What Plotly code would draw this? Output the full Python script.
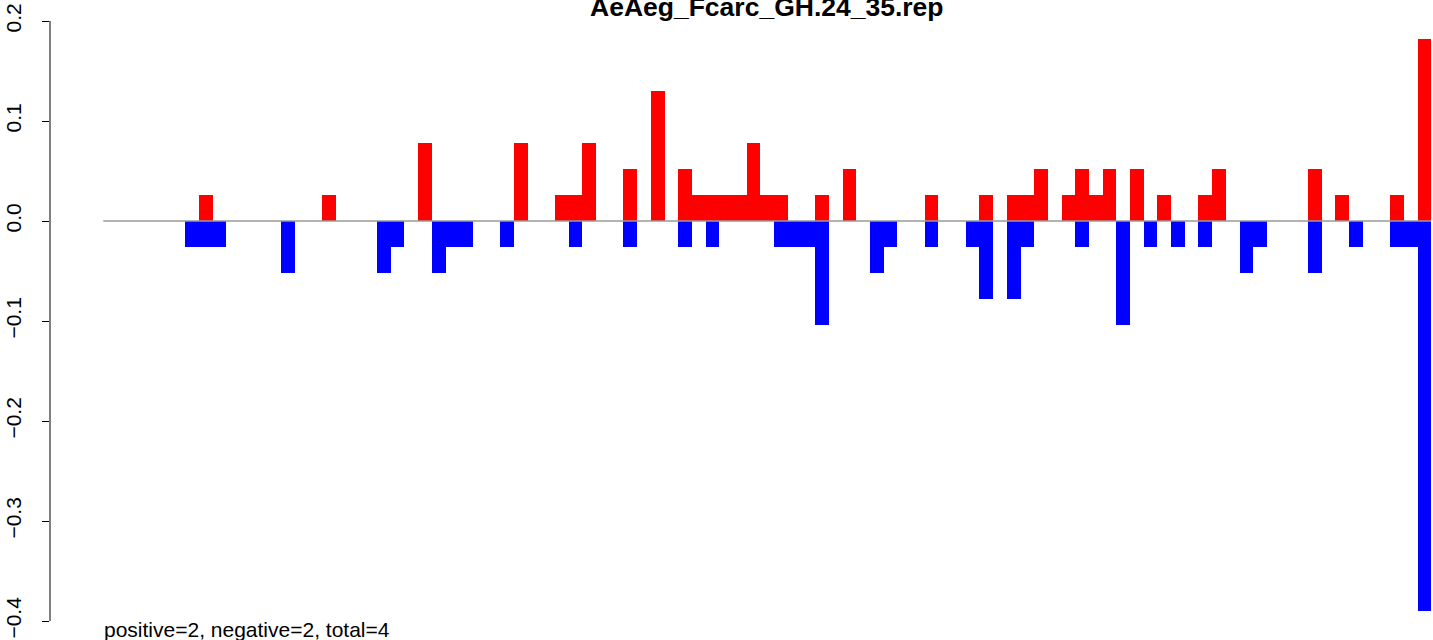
import plotly.graph_objects as go

# bar index positions (R barplot, space=0)
positions = list(range(97))

positive = [
    0, 0, 0, 0, 0, 0, 0, 0.026, 0, 0,
    0, 0, 0, 0, 0, 0, 0.026, 0, 0, 0,
    0, 0, 0, 0.078, 0, 0, 0, 0, 0, 0,
    0.078, 0, 0, 0.026, 0.026, 0.078, 0, 0, 0.052, 0,
    0.13, 0, 0.052, 0.026, 0.026, 0.026, 0.026, 0.078, 0.026, 0.026,
    0, 0, 0.026, 0, 0.052, 0, 0, 0, 0, 0,
    0.026, 0, 0, 0, 0.026, 0, 0.026, 0.026, 0.052, 0,
    0.026, 0.052, 0.026, 0.052, 0, 0.052, 0, 0.026, 0, 0,
    0.026, 0.052, 0, 0, 0, 0, 0, 0, 0.052, 0,
    0.026, 0, 0, 0, 0.026, 0, 0.182,
]

negative = [
    0, 0, 0, 0, 0, 0, -0.026, -0.026, -0.026, 0,
    0, 0, 0, -0.052, 0, 0, 0, 0, 0, 0,
    -0.052, -0.026, 0, 0, -0.052, -0.026, -0.026, 0, 0, -0.026,
    0, 0, 0, 0, -0.026, 0, 0, 0, -0.026, 0,
    0, 0, -0.026, 0, -0.026, 0, 0, 0, 0, -0.026,
    -0.026, -0.026, -0.104, 0, 0, 0, -0.052, -0.026, 0, 0,
    -0.026, 0, 0, -0.026, -0.078, 0, -0.078, -0.026, 0, 0,
    0, -0.026, 0, 0, -0.104, 0, -0.026, 0, -0.026, 0,
    -0.026, 0, 0, -0.052, -0.026, 0, 0, 0, -0.052, 0,
    0, -0.026, 0, 0, -0.026, -0.026, -0.39,
]

tick_vals = [0.2, 0.1, 0.0, -0.1, -0.2, -0.3, -0.4]
tick_text = ["0.2", "0.1", "0.0", "\u22120.1", "\u22120.2", "\u22120.3", "\u22120.4"]

title_text = "AeAeg_Fcarc_GH.24_35.rep"
footer_text = "positive=2, negative=2, total=4"

FONT = "Liberation Sans, Arial, Helvetica, sans-serif"

fig = go.Figure()
fig.add_trace(go.Bar(x=positions, y=positive, width=1,
                     marker=dict(color="#FF0000", line=dict(width=0)),
                     hoverinfo="skip"))
fig.add_trace(go.Bar(x=positions, y=negative, width=1,
                     marker=dict(color="#0000FF", line=dict(width=0)),
                     hoverinfo="skip"))

# baseline
fig.add_shape(type="line", xref="x", yref="y",
              x0=positions[0] - 0.5, x1=positions[-1] + 0.5, y0=0, y1=0,
              line=dict(color="#9a9a9a", width=1.3), layer="above")
# y axis line spanning tick range
fig.add_shape(type="line", xref="paper", yref="y",
              x0=0, x1=0, y0=min(tick_vals), y1=max(tick_vals),
              line=dict(color="black", width=1))

fig.add_annotation(text="<b>" + title_text + "</b>", xref="paper", yref="paper",
                   x=(767 - 50) / 1383, y=1 - 7 / 640, xanchor="center", yanchor="middle",
                   showarrow=False, font=dict(family=FONT, size=26.5, color="black"))
fig.add_annotation(text=footer_text, xref="paper", yref="paper",
                   x=(102 - 50) / 1383, y=1 - 629 / 640, xanchor="left", yanchor="middle",
                   showarrow=False, font=dict(family=FONT, size=21, color="black"))

fig.update_layout(
    width=1433, height=640,
    margin=dict(l=50, r=0, t=0, b=0),
    paper_bgcolor="white", plot_bgcolor="white",
    barmode="overlay", bargap=0,
    showlegend=False,
    font=dict(family=FONT, color="black"),
    xaxis=dict(range=[-4.39, 96.63], visible=False, fixedrange=True),
    yaxis=dict(range=[-0.419, 0.221], showgrid=False, zeroline=False, showline=False,
               tickmode="array", tickvals=tick_vals, ticktext=tick_text,
               ticks="outside", ticklen=7, tickwidth=1, tickcolor="black",
               tickangle=-90, tickfont=dict(family=FONT, size=21, color="black"),
               automargin=False, ticklabelstandoff=13, fixedrange=True),
)

fig.write_html("out.html",
               config={"displayModeBar": False},
               post_script="document.body.style.margin='0';document.body.style.overflow='hidden';")
